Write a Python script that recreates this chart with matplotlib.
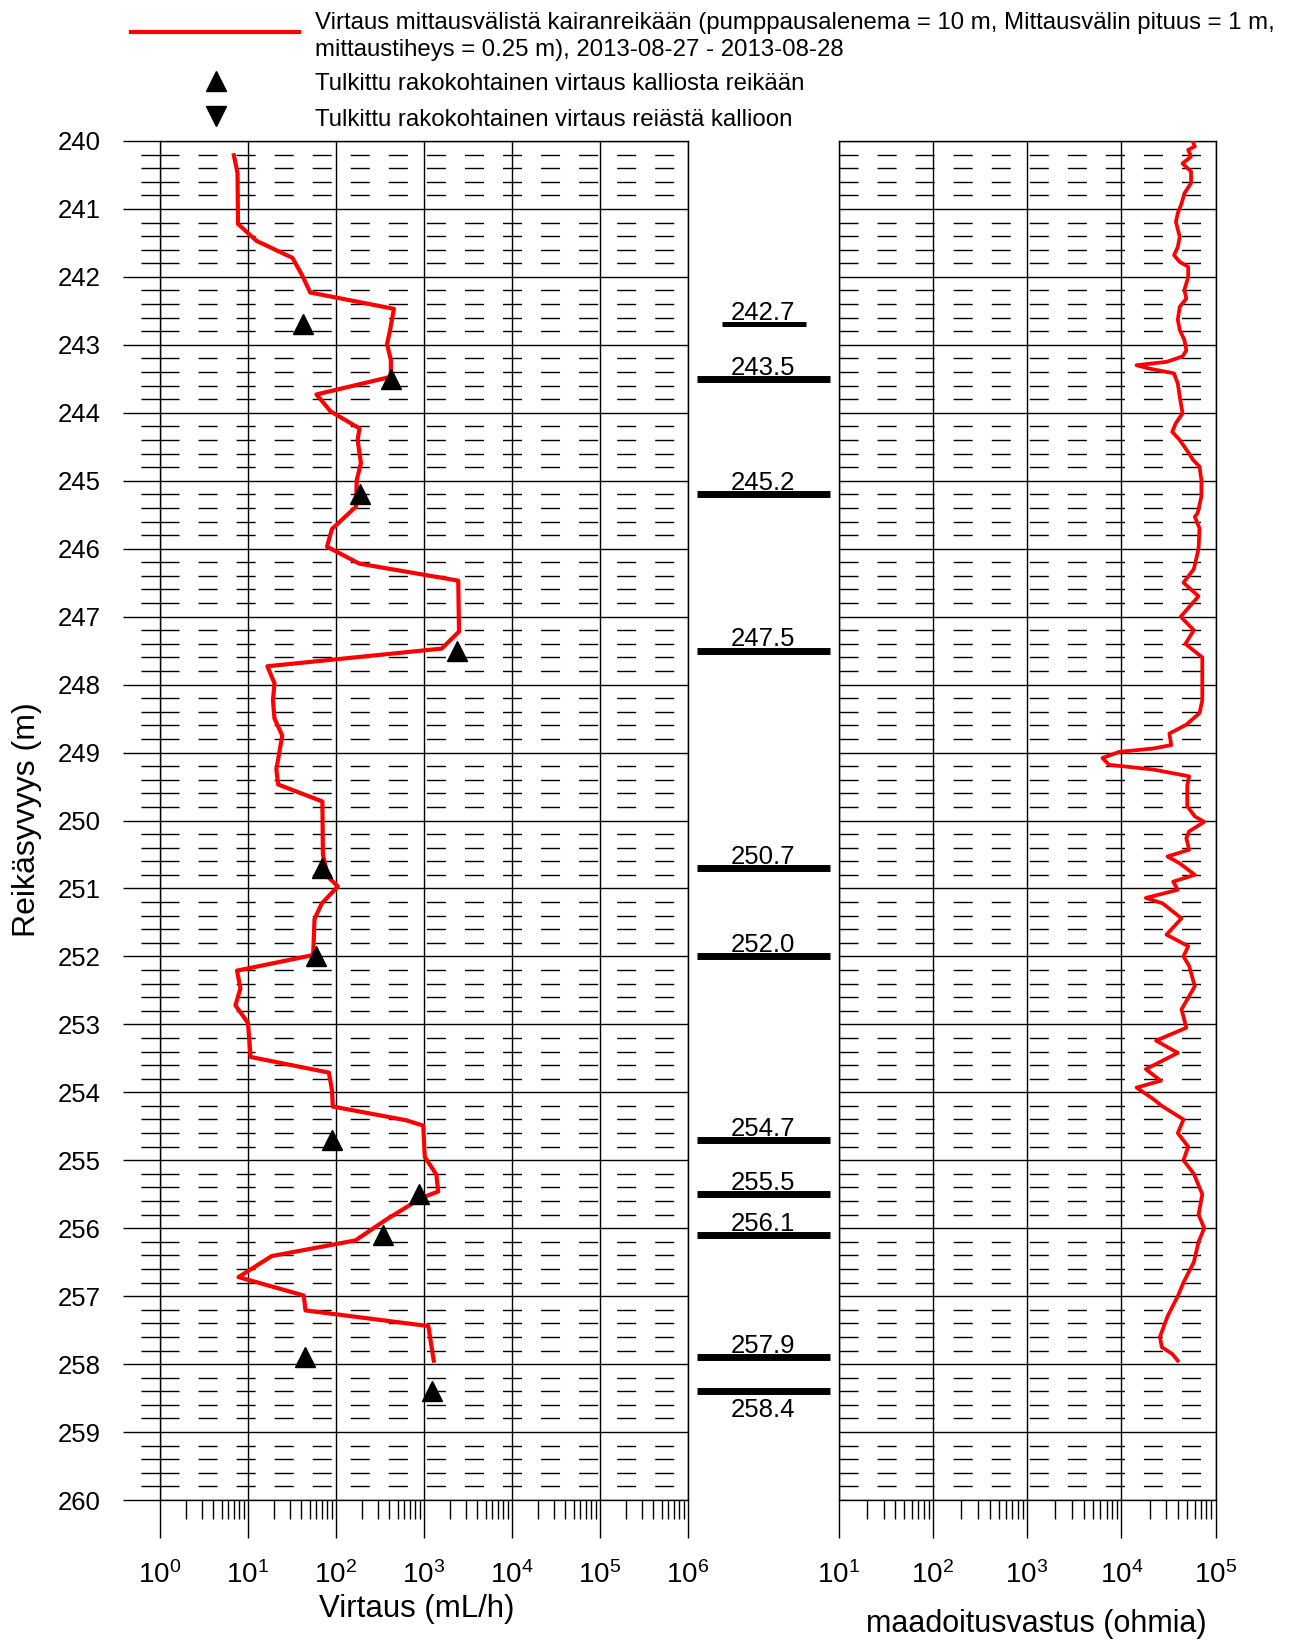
import matplotlib.pyplot as plt
from matplotlib.ticker import LogLocator, NullFormatter, MultipleLocator, LogFormatterMathtext
from matplotlib.lines import Line2D

plt.rcParams['font.family'] = ['Liberation Sans', 'DejaVu Sans']
plt.rcParams['mathtext.fontset'] = 'custom'
plt.rcParams['mathtext.rm'] = 'Liberation Sans'
plt.rcParams['mathtext.it'] = 'Liberation Sans:italic'
plt.rcParams['mathtext.bf'] = 'Liberation Sans:bold'

# flow measured between packers (mL/h) vs depth (m)
flow_depth = [240.21, 240.47, 241.22, 241.47, 241.72, 241.97, 242.23, 242.47, 242.78, 242.99,
              243.22, 243.47, 243.73, 243.98, 244.23, 244.40, 244.74, 244.99, 245.38, 245.71,
              245.97, 246.22, 246.47, 247.22, 247.47, 247.73, 247.98, 248.23, 248.50, 248.75,
              249.25, 249.47, 249.72, 250.50, 250.83, 250.97, 251.22, 251.45, 251.98, 252.21,
              252.47, 252.72, 252.98, 253.48, 253.71, 253.97, 254.21, 254.41, 254.49, 254.95,
              255.21, 255.46, 255.55, 255.87, 256.18, 256.41, 256.72, 256.99, 257.21, 257.44,
              257.95]
flow_val = [6.9, 7.6, 7.7, 12.5, 32, 41, 51, 455, 412, 380,
            420, 420, 60, 87, 185, 176, 192, 172, 169, 90,
            79, 184, 2450, 2500, 1590, 16.6, 20, 19.2, 20, 24.5,
            21, 22, 70, 71, 81, 105, 69, 57, 55, 7.5,
            8.2, 7.2, 10, 10.7, 83, 90, 92, 620, 980, 1020,
            1380, 1450, 950, 376, 166, 18.6, 7.8, 43, 45, 1120,
            1290]

# interpreted fracture-specific inflow (rock -> hole)
frac_depth = [242.7, 243.5, 245.2, 247.5, 250.7, 252.0, 254.7, 255.5, 256.1, 257.9, 258.4]
frac_flow = [42, 420, 186, 2400, 70, 60, 89, 870, 340, 44, 1220]

# grounding resistance (ohm) vs depth (m)
res_depth = [240.01, 240.08, 240.13, 240.23, 240.33, 240.45, 240.62, 240.77, 240.92, 241.06,
             241.19, 241.41, 241.56, 241.68, 241.78, 241.85, 242.00, 242.19, 242.32, 242.44,
             242.63, 242.78, 242.93, 243.08, 243.17, 243.25, 243.30, 243.35, 243.42, 243.57,
             243.76, 244.01, 244.15, 244.28, 244.40, 244.60, 244.69, 244.79, 244.99, 245.23,
             245.48, 245.53, 245.70, 246.00, 246.30, 246.50, 246.70, 247.00, 247.20, 247.40,
             247.60, 248.00, 248.23, 248.42, 248.59, 248.72, 248.89, 248.94, 248.99, 249.08,
             249.18, 249.25, 249.35, 249.49, 249.79, 249.94, 250.02, 250.16, 250.26, 250.43,
             250.53, 250.63, 250.80, 250.90, 251.02, 251.14, 251.22, 251.44, 251.68, 251.85,
             252.00, 252.14, 252.44, 252.78, 253.05, 253.24, 253.42, 253.66, 253.83, 253.93,
             254.10, 254.20, 254.40, 254.60, 254.80, 255.00, 255.20, 255.50, 255.80, 256.00,
             256.20, 256.50, 256.80, 257.00, 257.30, 257.60, 257.75, 257.85, 257.95]
res_val = [57500, 60300, 51300, 55000, 44700, 55000, 55000, 46800, 43600, 39800,
           38000, 41700, 39800, 36300, 41700, 51300, 51300, 46800, 49000, 41700,
           39800, 41700, 46800, 49000, 44700, 30200, 14500, 20000, 36300, 39800,
           41700, 44700, 38000, 34700, 41700, 52500, 57500, 67600, 70800, 70800,
           64600, 60300, 67600, 66100, 58900, 45700, 66100, 42700, 58900, 47900,
           72400, 72400, 72400, 67600, 49000, 32400, 33900, 21900, 9550, 6310,
           7410, 21900, 52500, 50100, 50100, 60300, 75900, 52500, 49000, 52500,
           30900, 41700, 60300, 35500, 39800, 18200, 27500, 43600, 30200, 51300,
           45700, 52500, 60300, 43600, 49000, 23400, 39800, 18200, 26300, 14500,
           21900, 26900, 45700, 39800, 51300, 45700, 58900, 72400, 66100, 75900,
           66100, 58900, 45700, 39800, 30900, 25700, 26900, 34700, 39800]

W, H = 1296, 1641
fig = plt.figure(figsize=(W / 100, H / 100), dpi=100)


def fx(px):
    return px / W


def fy(py):
    return 1 - py / H


dash = (0, (13.7, 13.7))
top, bot = 141, 1500

ax1 = fig.add_axes([fx(160), fy(bot), fx(688) - fx(160), fy(top) - fy(bot)])
ax2 = fig.add_axes([fx(838.6), fy(bot), fx(1215.5) - fx(838.6), fy(top) - fy(bot)])
axm = fig.add_axes([fx(688), fy(bot), fx(838.6) - fx(688), fy(top) - fy(bot)])

for ax, lims in [(ax1, (1, 1e6)), (ax2, (10, 1e5))]:
    ax.set_xscale('log')
    ax.set_xlim(*lims)
    ax.set_ylim(260, 240)
    ax.xaxis.set_major_locator(LogLocator(base=10, numticks=20))
    ax.xaxis.set_minor_locator(LogLocator(base=10, subs=range(2, 10), numticks=100))
    ax.xaxis.set_major_formatter(LogFormatterMathtext())
    ax.xaxis.set_minor_formatter(NullFormatter())
    ax.yaxis.set_major_locator(MultipleLocator(1))
    ax.yaxis.set_minor_locator(MultipleLocator(0.2))
    ax.set_axisbelow(True)
    ax.grid(which='major', color='black', lw=1)
    ax.yaxis.grid(which='minor', color='black', lw=1, linestyle=dash)
    ax.tick_params(axis='x', which='major', direction='out', length=27.4, width=1,
                   labelsize=20, pad=17)
    ax.tick_params(axis='x', which='minor', direction='out', length=13.7, width=1)
    for s in ax.spines.values():
        s.set_linewidth(1)

ax1.tick_params(axis='y', which='major', direction='out', length=26.6, width=1,
                labelsize=18.5, pad=16)
ax1.tick_params(axis='y', which='minor', direction='out', length=13.7, width=1)
ax2.tick_params(axis='y', which='both', length=0, labelleft=False)

ax1.plot(flow_val, flow_depth, color='#ff0000', lw=3, zorder=3)
ax1.plot(frac_flow, frac_depth, linestyle='none', marker='^', color='black',
         markersize=15, zorder=4, clip_on=False)

ax2.plot(res_val, res_depth, color='#ff0000', lw=2.7, zorder=3)

# fracture depth labels in middle column
axm.set_xlim(0, 1)
axm.set_ylim(260, 240)
axm.axis('off')
for d in frac_depth:
    if d == 242.7:
        axm.hlines(d, 0.226, 0.784, color='black', lw=3.6)
        off = 3.5
    else:
        axm.hlines(d, 0.06, 0.943, color='black', lw=5)
        off = 3.0
    if d == frac_depth[-1]:
        axm.annotate(f'{d:.1f}', (0.5, d), xytext=(0, -5), textcoords='offset points',
                     ha='center', va='top', fontsize=18.5)
    else:
        axm.annotate(f'{d:.1f}', (0.5, d), xytext=(0, off), textcoords='offset points',
                     ha='center', va='baseline', fontsize=18.5)

# legend
fig.add_artist(Line2D([fx(131), fx(299)], [fy(31.5), fy(31.5)], color='#ff0000', lw=3,
                      transform=fig.transFigure))
fig.add_artist(Line2D([fx(216)], [fy(81)], marker='^', color='black', markersize=15,
                      linestyle='none', transform=fig.transFigure))
fig.add_artist(Line2D([fx(216)], [fy(116)], marker='v', color='black', markersize=15,
                      linestyle='none', transform=fig.transFigure))
fig.text(fx(315), fy(28.5),
         'Virtaus mittausvälistä kairanreikään (pumppausalenema = 10 m, Mittausvälin pituus = 1 m,',
         fontsize=17.3, va='baseline')
fig.text(fx(315), fy(56), 'mittaustiheys = 0.25 m), 2013-08-27 - 2013-08-28',
         fontsize=17.3, va='baseline')
fig.text(fx(315), fy(90), 'Tulkittu rakokohtainen virtaus kalliosta reikään',
         fontsize=17.3, va='baseline')
fig.text(fx(315), fy(126.5), 'Tulkittu rakokohtainen virtaus reiästä kallioon',
         fontsize=17.3, va='baseline')

# axis titles
fig.text(fx(27), fy(820), 'Reikäsyvyys (m)', rotation=90, ha='center', va='center',
         fontsize=23)
fig.text(fx(417), fy(1609), 'Virtaus (mL/h)', ha='center', va='center', fontsize=22.5)
fig.text(fx(1036), fy(1624), 'maadoitusvastus (ohmia)', ha='center', va='center',
         fontsize=22)

fig.savefig('out.png', dpi=100)
